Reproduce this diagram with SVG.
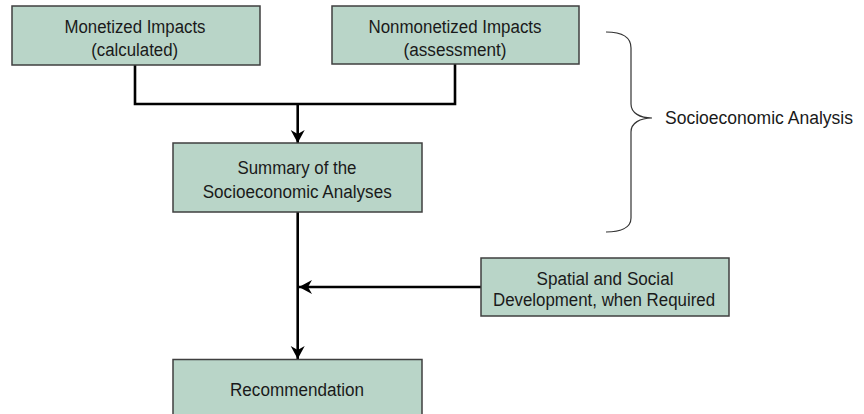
<svg xmlns="http://www.w3.org/2000/svg" width="864" height="414" viewBox="0 0 864 414">
<defs>
<style>
.box{fill:#b9d5c8;stroke:#3f3f3f;stroke-width:1.5}
.t{font-family:"Liberation Sans",Arial,sans-serif;font-size:18px;fill:#1a1a1a;text-anchor:middle}
.c{fill:none;stroke:#000;stroke-width:2.6}
.brace{fill:none;stroke:#333;stroke-width:1.2}
</style>
<marker id="ah" markerUnits="userSpaceOnUse" markerWidth="16" markerHeight="16" viewBox="0 0 16 16" refX="14" refY="8" orient="auto">
<path d="M14,8 L1,1 L5,8 L1,15 Z" fill="#000"/>
</marker>
</defs>
<rect width="864" height="414" fill="#fff"/>
<g id="connectors">
<polyline class="c" points="135,65 135,104 455,104 455,64"/>
<line class="c" x1="297.7" y1="104" x2="297.7" y2="143" marker-end="url(#ah)"/>
<line class="c" x1="297.7" y1="212" x2="297.7" y2="359" marker-end="url(#ah)"/>
<line class="c" x1="481" y1="287" x2="299" y2="287" marker-end="url(#ah)"/>
</g>
<g id="monetized">
<rect class="box" x="12" y="6" width="248" height="59"/>
<text class="t" x="135" y="33" textLength="141" lengthAdjust="spacingAndGlyphs">Monetized Impacts</text>
<text class="t" x="134.7" y="56" textLength="87" lengthAdjust="spacingAndGlyphs">(calculated)</text>
</g>
<g id="nonmonetized">
<rect class="box" x="332" y="6" width="247" height="58"/>
<text class="t" x="455" y="33" textLength="173" lengthAdjust="spacingAndGlyphs">Nonmonetized Impacts</text>
<text class="t" x="455" y="56" textLength="103" lengthAdjust="spacingAndGlyphs">(assessment)</text>
</g>
<g id="summary">
<rect class="box" x="173" y="143" width="249" height="69"/>
<text class="t" x="297" y="174" textLength="119" lengthAdjust="spacingAndGlyphs">Summary of the</text>
<text class="t" x="297.2" y="198" textLength="189" lengthAdjust="spacingAndGlyphs">Socioeconomic Analyses</text>
</g>
<g id="spatial">
<rect class="box" x="481" y="258" width="248" height="58"/>
<text class="t" x="605" y="285" textLength="137" lengthAdjust="spacingAndGlyphs">Spatial and Social</text>
<text class="t" x="604" y="306" textLength="222" lengthAdjust="spacingAndGlyphs">Development, when Required</text>
</g>
<g id="recommendation">
<rect class="box" x="173" y="359.5" width="249" height="60"/>
<text class="t" x="297" y="396" textLength="134" lengthAdjust="spacingAndGlyphs">Recommendation</text>
</g>
<g id="brace">
<path class="brace" d="M606,32 C620,32 631,36 631,48 L631,104 C631,113 640,118 652,118 C640,118 631,123 631,132 L631,218 C631,228 620,232 606,232"/>
<text font-family="'Liberation Sans',Arial,sans-serif" font-size="18" fill="#1a1a1a" x="665" y="124" textLength="188" lengthAdjust="spacingAndGlyphs">Socioeconomic Analysis</text>
</g>
</svg>
